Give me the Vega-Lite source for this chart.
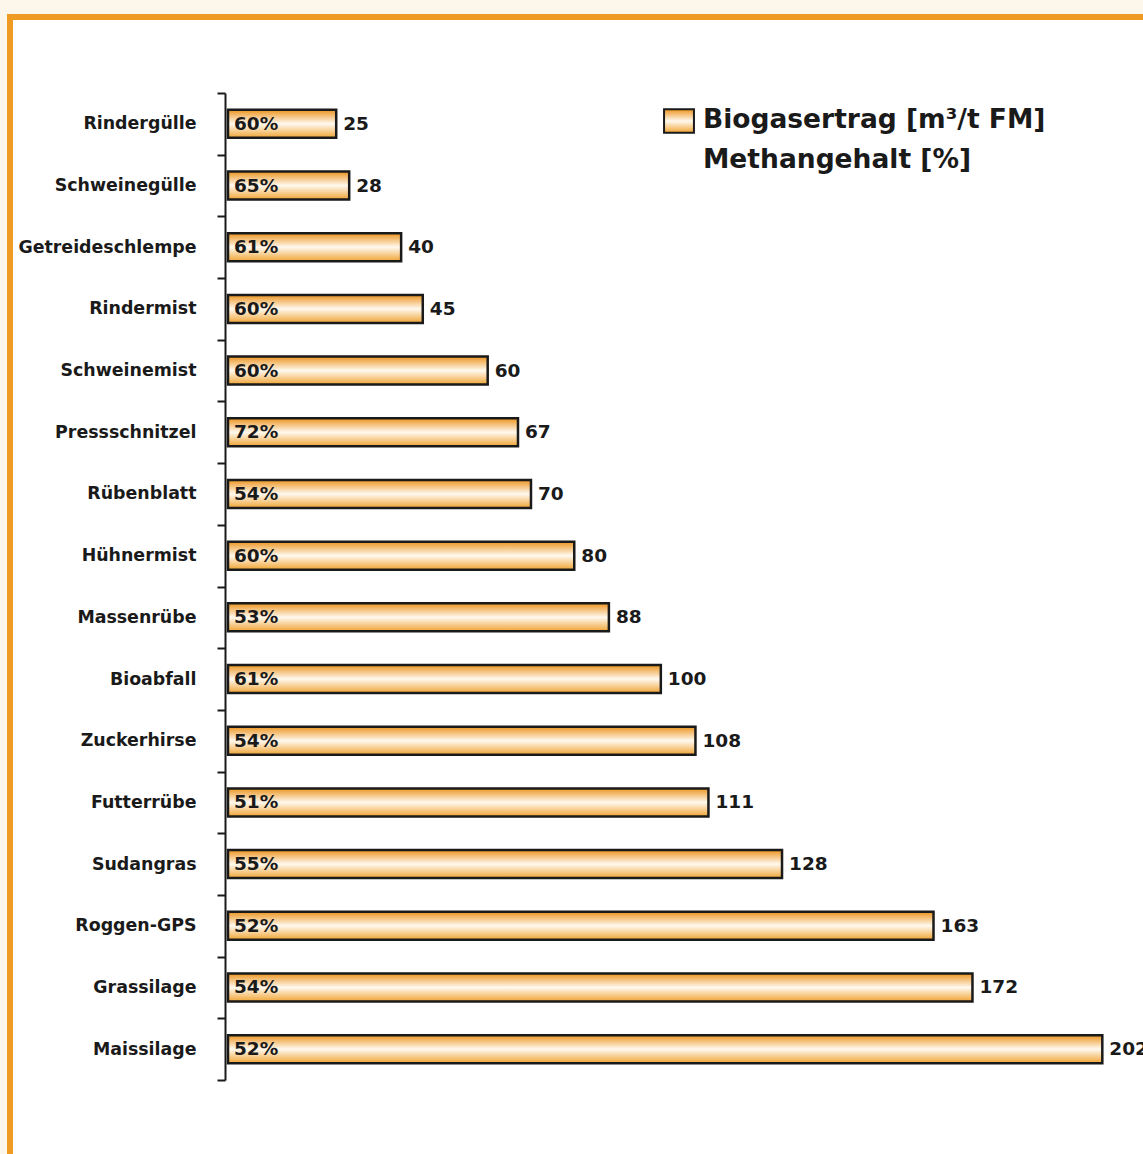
{
  "$schema": "https://vega.github.io/schema/vega-lite/v6.json",
  "autosize": {"type": "none"},
  "padding": {"left": 10, "top": 17, "right": 0, "bottom": 0},
  "width": 1133,
  "height": 1137,
  "background": "#fdf6ea",
  "config": {
    "view": {"fill": "#ffffff", "stroke": "#ef9a22", "strokeWidth": 6, "strokeDash": [1133, 2270, 1137]},
    "font": "DejaVu Sans"
  },
  "data": {
    "values": [
      {"substrat": "Rindergülle", "biogas": 25, "methan": 0.60},
      {"substrat": "Schweinegülle", "biogas": 28, "methan": 0.65},
      {"substrat": "Getreideschlempe", "biogas": 40, "methan": 0.61},
      {"substrat": "Rindermist", "biogas": 45, "methan": 0.60},
      {"substrat": "Schweinemist", "biogas": 60, "methan": 0.60},
      {"substrat": "Pressschnitzel", "biogas": 67, "methan": 0.72},
      {"substrat": "Rübenblatt", "biogas": 70, "methan": 0.54},
      {"substrat": "Hühnermist", "biogas": 80, "methan": 0.60},
      {"substrat": "Massenrübe", "biogas": 88, "methan": 0.53},
      {"substrat": "Bioabfall", "biogas": 100, "methan": 0.61},
      {"substrat": "Zuckerhirse", "biogas": 108, "methan": 0.54},
      {"substrat": "Futterrübe", "biogas": 111, "methan": 0.51},
      {"substrat": "Sudangras", "biogas": 128, "methan": 0.55},
      {"substrat": "Roggen-GPS", "biogas": 163, "methan": 0.52},
      {"substrat": "Grassilage", "biogas": 172, "methan": 0.54},
      {"substrat": "Maissilage", "biogas": 202, "methan": 0.52}
    ]
  },
  "encoding": {
    "y": {
      "field": "substrat",
      "type": "nominal",
      "sort": null,
      "title": null,
      "scale": {"range": [76, 1063], "paddingInner": 0, "paddingOuter": 0},
      "axis": {
        "offset": -215,
        "domainColor": "#1a1a1a",
        "domainWidth": 2,
        "tickBand": "extent",
        "tickColor": "#1a1a1a",
        "tickWidth": 2,
        "tickSize": 8,
        "labelPadding": 21,
        "labelFont": "DejaVu Sans",
        "labelFontWeight": "bold",
        "labelFontSize": 17.4,
        "labelColor": "#1a1a1a",
        "labelLimit": 300
      }
    }
  },
  "layer": [
    {
      "mark": {
        "type": "bar",
        "size": 28,
        "strokeWidth": 2.5,
        "fill": {
          "gradient": "linear",
          "x1": 0, "y1": 0, "x2": 0, "y2": 1,
          "stops": [
            {"offset": 0, "color": "#ec941f"},
            {"offset": 0.5, "color": "#fff9ef"},
            {"offset": 1, "color": "#f0a434"}
          ]
        }
      },
      "encoding": {
        "x": {
          "field": "biogas",
          "type": "quantitative",
          "scale": {"domain": [0, 211.4], "range": [218, 1133], "nice": false, "zero": false},
          "axis": null
        },
        "stroke": {
          "datum": "Biogasertrag",
          "scale": {"range": ["#1a1a1a"]},
          "legend": {
            "title": ["Biogasertrag [m³/t FM]", "Methangehalt [%]"],
            "titleOrient": "right",
            "titleAnchor": "start",
            "titleAlign": "left",
            "titleBaseline": "top",
            "titlePadding": 5,
            "titleFont": "DejaVu Sans",
            "titleFontWeight": "bold",
            "titleFontSize": 26.5,
            "titleColor": "#1a1a1a",
            "titleLimit": 600,
            "titleLineHeight": 40,
            "orient": "none",
            "legendX": 655,
            "legendY": 90,
            "padding": 0,
            "symbolType": "M-1.15,-0.9H1.15V0.9H-1.15Z",
            "symbolSize": 676,
            "symbolStrokeWidth": 2,
            "symbolStrokeColor": "#1a1a1a",
            "labelExpr": "''",
            "labelOffset": 0,
            "labelFontSize": 10
          }
        }
      }
    },
    {
      "mark": {"type": "text", "align": "left", "baseline": "middle", "dx": 7, "fontWeight": "bold", "fontSize": 18.5, "color": "#1a1a1a"},
      "encoding": {
        "x": {"field": "biogas", "type": "quantitative"},
        "text": {"field": "biogas", "type": "quantitative"}
      }
    },
    {
      "mark": {"type": "text", "align": "left", "baseline": "middle", "dx": 6, "fontWeight": "bold", "fontSize": 18.5, "color": "#1a1a1a"},
      "encoding": {
        "x": {"datum": 0, "type": "quantitative"},
        "text": {"field": "methan", "type": "quantitative", "format": ".0%"}
      }
    }
  ]
}
